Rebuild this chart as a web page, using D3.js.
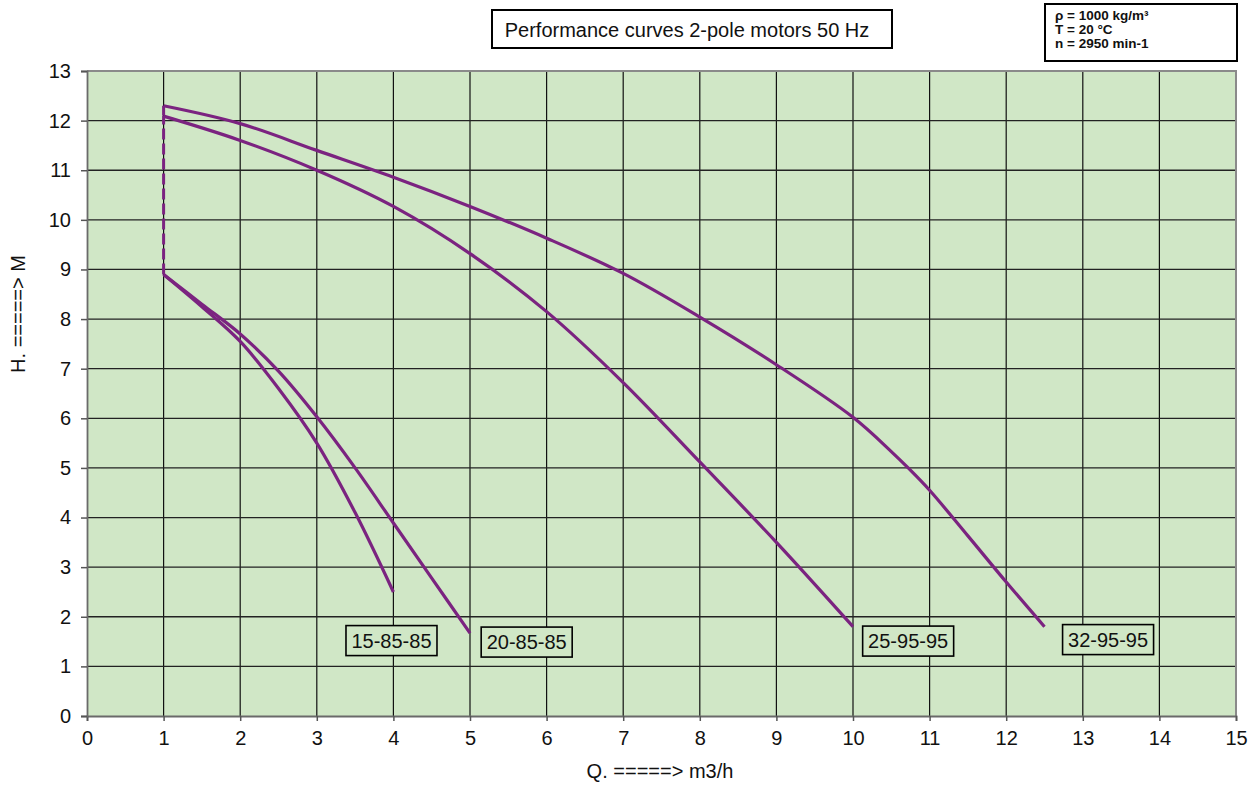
<!DOCTYPE html>
<html>
<head>
<meta charset="utf-8">
<script src="https://cdn.jsdelivr.net/npm/d3@7"></script>
<style>
  body { margin: 0; background: #fff; }
  svg { display: block; font-family: "Liberation Sans", Arial, sans-serif; }
</style>
</head>
<body>
<div id="chart"></div>
<script>
// curve points (Q in m3/h, H in m)
const q15 = [1, 1.5, 2, 2.5, 3, 3.5, 4];
const h15 = [8.9, 8.25, 7.55, 6.6, 5.5, 4.1, 2.5];

const q20 = [1, 1.5, 2, 2.5, 3, 3.5, 4, 4.5, 5];
const h20 = [8.9, 8.3, 7.7, 6.95, 6.03, 5.0, 3.89, 2.78, 1.67];

const q25 = [1, 2, 3, 4, 5, 6, 7, 8, 9, 10];
const h25 = [12.09, 11.6, 11.0, 10.27, 9.32, 8.15, 6.72, 5.12, 3.5, 1.8];

const q32 = [1, 2, 3, 4, 5, 6, 7, 8, 9, 10, 10.5, 10.72, 11, 11.5, 12, 12.5];
const h32 = [12.3, 11.94, 11.4, 10.86, 10.27, 9.63, 8.92, 8.04, 7.08, 6.02, 5.33, 5.0, 4.55, 3.63, 2.7, 1.8];

// vertical link at Q = 1 between the small and large pumps
const linkQ = [1, 1];
const linkDashedH = [8.9, 12.1];
const linkSolidH = [12.1, 12.3];

const seriesNames = ["15-85-85", "20-85-85", "25-95-95", "32-95-95"];
// where each name tag sits (data units)
const tagQ = [3.975, 5.74, 10.72, 13.33];
const tagH = [1.52, 1.49, 1.51, 1.54];

const xTicks = d3.range(0, 16);
const yTicks = d3.range(0, 14);

const title = "Performance curves 2-pole motors 50 Hz";
const infoLines = ["ρ = 1000 kg/m³", "T = 20 °C", "n = 2950 min-1"];
const xTitle = "Q. =====> m3/h";
const yTitle = "H. =====> M";

const width = 1256;
const height = 787;
const margin = { top: 71, right: 20, bottom: 71, left: 87 };

const plotBg = "#d0e7c6";
const curveColor = "#7b2380";

const x = d3.scaleLinear().domain([0, 15]).range([margin.left, width - margin.right]);
const y = d3.scaleLinear().domain([0, 13]).range([height - margin.bottom, margin.top]);

const svg = d3.select("#chart").append("svg")
    .attr("width", width)
    .attr("height", height);

// plot area
svg.append("rect")
    .attr("x", x(0))
    .attr("y", y(13))
    .attr("width", x(15) - x(0))
    .attr("height", y(0) - y(13))
    .attr("fill", plotBg);

// grid
svg.append("g")
    .selectAll("line")
    .data(xTicks.filter(d => d > 0 && d < 15))
    .join("line")
    .attr("x1", d => x(d)).attr("x2", d => x(d))
    .attr("y1", y(0)).attr("y2", y(13))
    .attr("stroke", "#111")
    .attr("stroke-width", 1.2);

svg.append("g")
    .selectAll("line")
    .data(yTicks.filter(d => d > 0 && d < 13))
    .join("line")
    .attr("x1", x(0)).attr("x2", x(15))
    .attr("y1", d => y(d)).attr("y2", d => y(d))
    .attr("stroke", "#222")
    .attr("stroke-width", 1.3);

// border on top / right
svg.append("path")
    .attr("d", `M${x(0)},${y(13)}H${x(15)}V${y(0)}`)
    .attr("fill", "none")
    .attr("stroke", "#8a8a8a")
    .attr("stroke-width", 2);

// axes
const xAxis = svg.append("g")
    .attr("transform", `translate(0,${y(0)})`)
    .call(d3.axisBottom(x).tickValues(xTicks).tickSize(5).tickPadding(10).tickFormat(d3.format("d")));

const yAxis = svg.append("g")
    .attr("transform", `translate(${x(0)},0)`)
    .call(d3.axisLeft(y).tickValues(yTicks).tickSize(6).tickPadding(10).tickFormat(d3.format("d")));

[xAxis, yAxis].forEach(a => {
    a.select(".domain").attr("stroke", "#6a6a6a").attr("stroke-width", 1.8);
    a.selectAll(".tick line").attr("stroke", "#555").attr("stroke-width", 1.5);
    a.selectAll(".tick text")
        .attr("font-size", 20)
        .attr("font-family", "Liberation Sans, Arial, sans-serif")
        .attr("fill", "#111");
});

// curves
const line = d3.line()
    .x(d => x(d[0]))
    .y(d => y(d[1]))
    .curve(d3.curveCatmullRom.alpha(0.5));

const curves = [
    d3.zip(q15, h15),
    d3.zip(q20, h20),
    d3.zip(q25, h25),
    d3.zip(q32, h32)
];

svg.append("g")
    .selectAll("path")
    .data(curves)
    .join("path")
    .attr("d", line)
    .attr("fill", "none")
    .attr("stroke", curveColor)
    .attr("stroke-width", 3.2)
    .attr("stroke-linejoin", "round");

const straight = d3.line().x(d => x(d[0])).y(d => y(d[1]));

svg.append("path")
    .attr("d", straight(d3.zip(linkQ, linkDashedH)))
    .attr("fill", "none")
    .attr("stroke", curveColor)
    .attr("stroke-width", 3)
    .attr("stroke-dasharray", "11,4");

svg.append("path")
    .attr("d", straight(d3.zip(linkQ, linkSolidH)))
    .attr("fill", "none")
    .attr("stroke", curveColor)
    .attr("stroke-width", 3);

// name tags
const tags = svg.append("g")
    .selectAll("g")
    .data(seriesNames.map((n, i) => ({ name: n, q: tagQ[i], h: tagH[i] })))
    .join("g")
    .attr("transform", d => `translate(${x(d.q)},${y(d.h)})`);

tags.append("rect")
    .attr("x", -45.5)
    .attr("y", -15)
    .attr("width", 91)
    .attr("height", 30)
    .attr("fill", plotBg)
    .attr("stroke", "#000")
    .attr("stroke-width", 1.6);

tags.append("text")
    .attr("text-anchor", "middle")
    .attr("y", 7)
    .attr("font-size", 20)
    .attr("fill", "#111")
    .text(d => d.name);

// title box
svg.append("rect")
    .attr("x", 492)
    .attr("y", 10)
    .attr("width", 400)
    .attr("height", 38)
    .attr("fill", "#fff")
    .attr("stroke", "#000")
    .attr("stroke-width", 2);

svg.append("text")
    .attr("x", 687)
    .attr("y", 37)
    .attr("text-anchor", "middle")
    .attr("font-size", 20)
    .attr("fill", "#111")
    .text(title);

// fluid / speed box
svg.append("rect")
    .attr("x", 1045)
    .attr("y", 4)
    .attr("width", 192)
    .attr("height", 57)
    .attr("fill", "#fff")
    .attr("stroke", "#000")
    .attr("stroke-width", 2);

svg.append("g")
    .selectAll("text")
    .data(infoLines)
    .join("text")
    .attr("x", 1055)
    .attr("y", (d, i) => 20 + i * 14)
    .attr("font-size", 13.5)
    .attr("font-weight", "bold")
    .attr("fill", "#111")
    .text(d => d);

// axis titles
svg.append("text")
    .attr("x", 660)
    .attr("y", 778)
    .attr("text-anchor", "middle")
    .attr("font-size", 20)
    .attr("fill", "#111")
    .text(xTitle);

svg.append("text")
    .attr("transform", "translate(25,314) rotate(-90)")
    .attr("text-anchor", "middle")
    .attr("font-size", 20)
    .attr("fill", "#111")
    .text(yTitle);
</script>
</body>
</html>
